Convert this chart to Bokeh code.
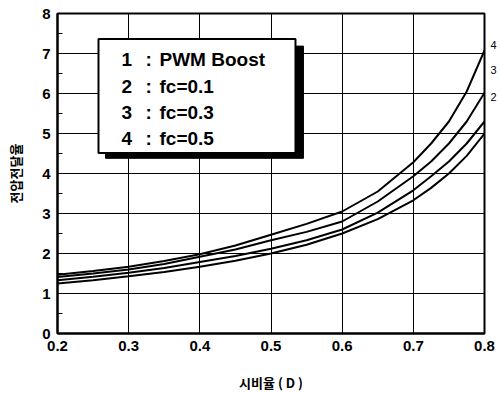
from bokeh.plotting import figure
from bokeh.models import Range1d, Label, FixedTicker, LinearAxis
from bokeh.embed import file_html
from bokeh.resources import INLINE

# duty ratio D
duty = [0.2, 0.25, 0.3, 0.35, 0.4, 0.45, 0.5, 0.55, 0.6, 0.65, 0.7, 0.725, 0.75, 0.775, 0.8]
# voltage gain curves
gain_pwm  = [1.25, 1.33, 1.43, 1.54, 1.67, 1.82, 2.00, 2.22, 2.50, 2.86, 3.33, 3.64, 4.00, 4.44, 5.00]
gain_fc01 = [1.33, 1.42, 1.52, 1.64, 1.79, 1.94, 2.12, 2.33, 2.60, 3.02, 3.58, 3.93, 4.30, 4.75, 5.30]
gain_fc03 = [1.41, 1.50, 1.60, 1.74, 1.92, 2.10, 2.33, 2.54, 2.80, 3.30, 3.93, 4.30, 4.75, 5.30, 6.02]
gain_fc05 = [1.47, 1.56, 1.67, 1.81, 1.98, 2.20, 2.47, 2.74, 3.05, 3.55, 4.28, 4.75, 5.30, 6.05, 7.08]

legend_nums = ["1", "2", "3", "4"]
legend_texts = ["PWM Boost", "fc=0.1", "fc=0.3", "fc=0.5"]
end_labels = ["4", "3", "2"]
end_label_y = [7.21, 6.58, 5.91]

x_ticks = [0.2, 0.3, 0.4, 0.5, 0.6, 0.7, 0.8]
y_ticks = [0, 1, 2, 3, 4, 5, 6, 7, 8]

p = figure(frame_width=427, frame_height=320, output_backend="svg", toolbar_location=None,
           x_range=Range1d(0.2, 0.8), y_range=Range1d(0, 8),
           min_border_left=57, min_border_top=13, min_border_right=0, min_border_bottom=52)

p.outline_line_color = "black"
p.outline_line_width = 2
p.background_fill_color = "white"
p.border_fill_color = "white"

for ax in (p.xaxis[0], p.yaxis[0]):
    ax.axis_line_color = "black"
    ax.axis_line_width = 2
    ax.major_tick_in = 0
    ax.major_tick_out = 0
    ax.major_label_text_font = "Liberation Sans"
    ax.major_label_text_font_style = "bold"
    ax.major_label_text_font_size = "15px"
    ax.major_label_text_color = "black"
    ax.axis_label_text_font = "Noto Sans CJK KR"
    ax.axis_label_text_font_style = "bold"
    ax.axis_label_text_font_size = "13px"
    ax.axis_label_text_color = "black"

p.xaxis.ticker = FixedTicker(ticks=x_ticks)
p.xaxis.minor_tick_line_color = None
p.xaxis.major_label_standoff = 7
p.xaxis.axis_label = "시비율 ( D )"
p.xaxis.axis_label_standoff = 19

p.yaxis.ticker = FixedTicker(ticks=y_ticks, minor_ticks=[v + 0.5 for v in y_ticks[:-1]])
p.yaxis.minor_tick_in = 5
p.yaxis.minor_tick_out = 0
p.yaxis.minor_tick_line_color = "black"
p.yaxis.minor_tick_line_width = 1
p.yaxis.major_label_standoff = 7
p.yaxis.axis_label = "전압전달율"
p.yaxis.axis_label_standoff = 14

# curve numbers at the right edge (partly cut in the reference)
ra = LinearAxis(ticker=FixedTicker(ticks=end_label_y, minor_ticks=[]),
                major_label_overrides={v: s for v, s in zip(end_label_y, end_labels)})
ra.axis_line_color = None
ra.major_tick_line_color = None
ra.minor_tick_line_color = None
ra.major_tick_in = 0
ra.major_tick_out = 0
ra.major_label_standoff = 6
ra.major_label_text_font = "Liberation Sans"
ra.major_label_text_font_size = "11px"
ra.major_label_text_color = "black"
p.add_layout(ra, "right")

p.xgrid.grid_line_color = "black"
p.ygrid.grid_line_color = "black"
p.xgrid.grid_line_width = 1
p.ygrid.grid_line_width = 1
p.xgrid.grid_line_alpha = 1
p.ygrid.grid_line_alpha = 1

for g in (gain_pwm, gain_fc01, gain_fc03, gain_fc05):
    p.line(duty, g, line_color="black", line_width=2)

# legend box with shadow
p.quad(left=[0.2675], right=[0.5456], top=[7.185], bottom=[4.38],
       fill_color="black", line_color="black")
p.quad(left=[0.2576], right=[0.5344], top=[7.36], bottom=[4.51],
       fill_color="white", line_color="black", line_width=2)

row_y = [6.86, 6.18, 5.53, 4.88]
for n, t, yy in zip(legend_nums, legend_texts, row_y):
    for xx, s in ((0.2899, n), (0.3237, ":"), (0.3433, t)):
        p.add_layout(Label(x=xx, y=yy, text=s, text_font="Liberation Sans",
                           text_font_style="bold", text_font_size="19px",
                           text_baseline="middle", text_align="left",
                           text_color="black"))

open("out.html", "w").write(file_html(p, INLINE))
